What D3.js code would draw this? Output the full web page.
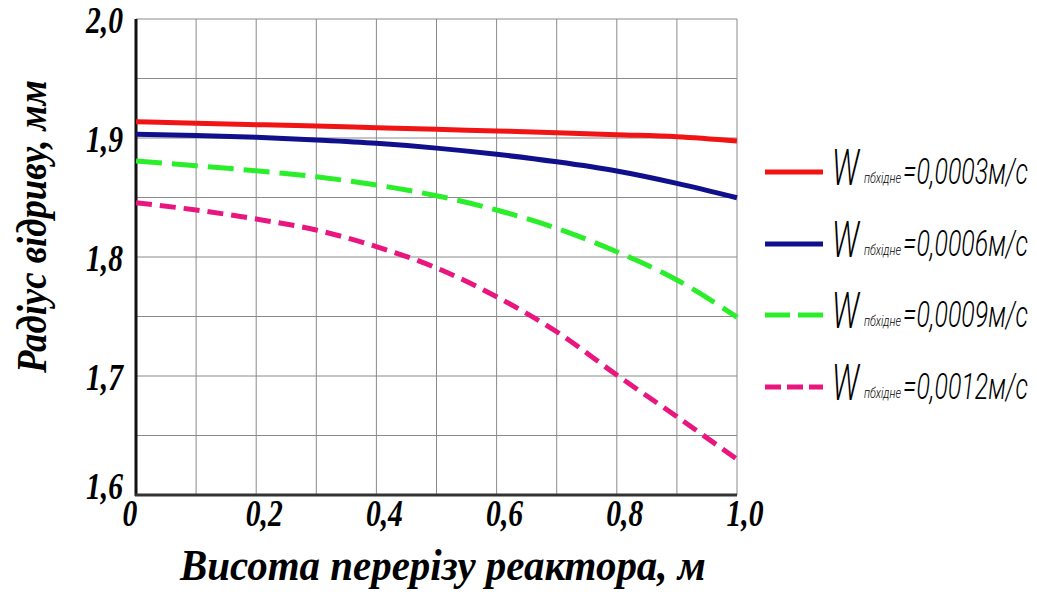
<!DOCTYPE html>
<html>
<head>
  <meta charset="utf-8">
  <script src="https://d3js.org/d3.v7.min.js"></script>
  <style>
    body { margin: 0; background: #fff; }
    svg { display: block; }
  </style>
</head>
<body>
<script type="text/javascript">

  // heights along the reactor section, m
  var heights = [0, 0.1, 0.2, 0.3, 0.4, 0.5, 0.6, 0.7, 0.8, 0.9, 1.0];

  // break-off radius, mm, one list per inlet velocity
  var r0003 = [1.9137, 1.9123, 1.9112, 1.9101, 1.9087, 1.9073, 1.9059, 1.9045, 1.9028, 1.9011, 1.8975];
  var r0006 = [1.9031, 1.9022, 1.9006, 1.8983, 1.8955, 1.8915, 1.8863, 1.8800, 1.8723, 1.8619, 1.8498];
  var r0009 = [1.8807, 1.8767, 1.8724, 1.8674, 1.8605, 1.8515, 1.8395, 1.8241, 1.8044, 1.7807, 1.7494];
  var r0012 = [1.8456, 1.8395, 1.8319, 1.8227, 1.8087, 1.7908, 1.7666, 1.7372, 1.7008, 1.6658, 1.6300];

  var velocities = ["0,0003", "0,0006", "0,0009", "0,0012"];

  var xTickValues = [0, 0.2, 0.4, 0.6, 0.8, 1.0];
  var xTickLabels = ["0", "0,2", "0,4", "0,6", "0,8", "1,0"];
  var yTickValues = [1.6, 1.7, 1.8, 1.9, 2.0];
  var yTickLabels = ["1,6", "1,7", "1,8", "1,9", "2,0"];

  var series = [
    {name: velocities[0], values: r0003, color: "#f01414", dash: null, key: null},
    {name: velocities[1], values: r0006, color: "#10108c", dash: null, key: null},
    {name: velocities[2], values: r0009, color: "#2aee2a", dash: "26,10", key: "25,8"},
    {name: velocities[3], values: r0012, color: "#e8167e", dash: "16,8", key: "16,6"}
  ];

  var width = 1037, height = 595;
  var margin = {top: 19, right: 300, bottom: 100, left: 136};

  var svg = d3.select("body")
    .append("svg")
      .attr("width", width)
      .attr("height", height);

  var x = d3.scaleLinear().domain([0, 1]).range([margin.left, width - margin.right]);
  var y = d3.scaleLinear().domain([1.6, 2.0]).range([height - margin.bottom, margin.top]);

  // squeeze a text horizontally so it fills a given width
  // (the original lettering is narrower than any installed font)
  function fit(sel, px, py, w) {
    sel.each(function () {
      var len = this.getComputedTextLength();
      d3.select(this).attr("transform",
        "translate(" + px + "," + py + ") scale(" + (w / len) + ",1)");
    });
  }

  function squeeze(sel, px, py, k) {
    sel.attr("transform", function (d, i) {
      return "translate(" + px(d, i) + "," + py(d, i) + ") scale(" + k + ",1)";
    });
  }

  // grid, 0.1 along x and 0.05 along y
  var grid = svg.append("g").attr("stroke", "#8a8a8a").attr("stroke-width", 1);
  grid.selectAll("line.vx")
    .data(d3.range(1, 11).map(function (i) { return i / 10; }))
    .enter().append("line")
      .attr("x1", function (d) { return x(d); })
      .attr("x2", function (d) { return x(d); })
      .attr("y1", y(1.6))
      .attr("y2", y(2.0));
  grid.selectAll("line.hy")
    .data(d3.range(1, 9).map(function (i) { return 1.6 + i * 0.05; }))
    .enter().append("line")
      .attr("x1", x(0))
      .attr("x2", x(1))
      .attr("y1", function (d) { return y(d); })
      .attr("y2", function (d) { return y(d); });

  // the two heavy axis lines
  svg.append("line")
    .attr("x1", x(0)).attr("x2", x(0))
    .attr("y1", y(2.0)).attr("y2", y(1.6) + 1)
    .attr("stroke", "#111").attr("stroke-width", 3);
  svg.append("line")
    .attr("x1", x(0) - 1).attr("x2", x(1))
    .attr("y1", y(1.6)).attr("y2", y(1.6))
    .attr("stroke", "#333").attr("stroke-width", 3);

  var serif = "'Liberation Serif', 'Times New Roman', serif";

  // tick labels
  var xt = svg.selectAll("text.xt")
    .data(xTickValues)
    .enter().append("text")
      .attr("text-anchor", "middle")
      .style("font-family", serif)
      .style("font-size", "37px")
      .style("font-weight", "bold")
      .style("font-style", "italic")
      .text(function (d, i) { return xTickLabels[i]; });
  squeeze(xt, function (d, i) { return x(d) + (i === 0 ? -6 : 8); },
    function () { return 526; }, 0.8);

  var yt = svg.selectAll("text.yt")
    .data(yTickValues)
    .enter().append("text")
      .attr("text-anchor", "end")
      .style("font-family", serif)
      .style("font-size", "37px")
      .style("font-weight", "bold")
      .style("font-style", "italic")
      .text(function (d, i) { return yTickLabels[i]; });
  squeeze(yt, function () { return 123; },
    function (d, i) { return y(d) + (i === 0 ? 4 : 14); }, 0.8);

  // axis titles
  svg.append("text")
    .style("font-family", serif)
    .style("font-size", "45px")
    .style("font-weight", "bold")
    .style("font-style", "italic")
    .text("Висота перерізу реактора, м")
    .call(fit, 180, 580, 526);

  var yTitle = svg.append("g").attr("transform", "translate(46,373) rotate(-90)");
  yTitle.append("text")
    .style("font-family", serif)
    .style("font-size", "43px")
    .style("font-weight", "bold")
    .style("font-style", "italic")
    .text("Радіус відриву, мм")
    .call(fit, 0, 0, 293);

  // curves
  var line = d3.line()
    .x(function (d) { return x(d[0]); })
    .y(function (d) { return y(d[1]); })
    .curve(d3.curveMonotoneX);

  svg.selectAll("path.curve")
    .data(series)
    .enter().append("path")
      .attr("fill", "none")
      .attr("stroke", function (d) { return d.color; })
      .attr("stroke-width", 5)
      .attr("stroke-dasharray", function (d) { return d.dash; })
      .attr("d", function (d) {
        return line(heights.map(function (h, i) { return [h, d.values[i]]; }));
      });

  // legend on the right
  var legendY = [172, 244, 315, 387];
  var thin = "Roboto, 'Open Sans', 'DejaVu Sans', sans-serif";

  var rows = svg.selectAll("g.legend")
    .data(series)
    .enter().append("g")
      .attr("transform", function (d, i) { return "translate(0," + legendY[i] + ")"; });

  rows.append("line")
    .attr("x1", 765).attr("x2", 823)
    .attr("y1", 0).attr("y2", 0)
    .attr("stroke", function (d) { return d.color; })
    .attr("stroke-width", 5)
    .attr("stroke-dasharray", function (d) { return d.key; });

  rows.append("text")
    .style("font-family", thin)
    .style("font-size", "50px")
    .style("font-weight", 300)
    .style("font-style", "italic")
    .text("W")
    .call(fit, 832, 13, 27);

  rows.append("text")
    .style("font-family", thin)
    .style("font-size", "14px")
    .style("font-weight", 300)
    .style("font-style", "italic")
    .text("пбхідне")
    .call(fit, 864, 11, 37);

  rows.append("text")
    .style("font-family", thin)
    .style("font-size", "37px")
    .style("font-weight", 300)
    .style("font-style", "italic")
    .text(function (d) { return "=" + d.name + "м/с"; })
    .call(fit, 903, 12, 125);

</script>
</body>
</html>
